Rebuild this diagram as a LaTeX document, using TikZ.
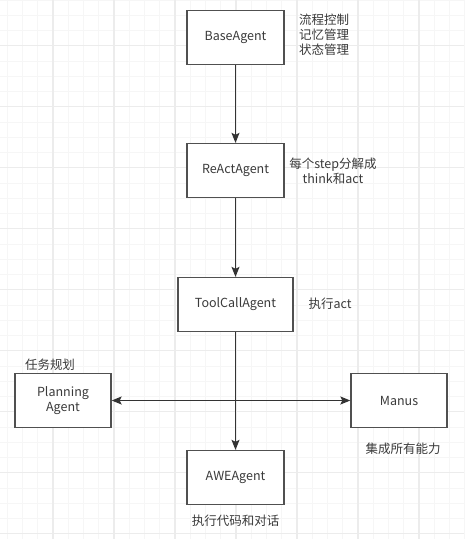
\documentclass[tikz,border=0pt]{standalone}
\usepackage{fontspec}
\setmainfont{Noto Sans CJK SC}
\usetikzlibrary{arrows.meta, positioning}
\definecolor{cline}{HTML}{505050}
\definecolor{carrow}{HTML}{333333}
\definecolor{ctext}{HTML}{3A3A3A}
\definecolor{cgridminor}{HTML}{F6F6F6}
\definecolor{cgridmajor}{HTML}{ECECEC}
\tikzset{
  every picture/.style={font=\fontsize{12.5}{15}\selectfont, text=ctext},
  agent/.style={draw=cline, fill=white, line width=1.3pt, minimum width=#1, minimum height=54pt, inner sep=0pt, align=center},
  agent/.default=97pt,
  arrow/.style={-{Stealth[length=10pt, width=8pt, inset=2pt]}, draw=carrow, line width=1.3pt},
  note/.style={align=center, inner sep=0pt},
  gridminor/.style={draw=cgridminor, line width=1pt},
  gridmajor/.style={draw=cgridmajor, line width=1.2pt},
}
\begin{document}
\begin{tikzpicture}[x=1pt, y=-1pt]
  \fill[white] (0,0) rectangle (464,539);
  \useasboundingbox (0,0) rectangle (464,539);
  % background grid
  \foreach \k in {0,...,30} \draw[gridminor] ({7.25+15.25*\k},0) -- ++(0,539);
  \foreach \k in {0,...,35} \draw[gridminor] (0,{15.25*\k}) -- ++(464,0);
  \foreach \k in {3,7,...,27} \draw[gridmajor] ({7.25+15.25*\k},0) -- ++(0,539);
  \foreach \k in {3,7,...,35} \draw[gridmajor] (0,{15.25*\k}) -- ++(464,0);

  % agents
  \node[agent] (base) at (235.5,37.5) {BaseAgent};
  \node[agent] (react) at (235.5,170.5) {ReActAgent};
  \node[agent=115pt] (tool) at (235.5,304.5) {ToolCallAgent};
  \node[agent=96pt] (plan) at (63,400.5) {Planning\\Agent};
  \node[agent=96pt] (manus) at (399,400.5) {Manus};
  \node[agent] (awe) at (235.5,477.5) {AWEAgent};

  % notes
  \node[note, align=left, anchor=west] (basenote) at (299,35) {流程控制\\记忆管理\\状态管理};
  \node[note] (reactnote) at (333,171.5) {每个step分解成\\think和act};
  \node[note] (toolnote) at (330,304) {执行act};
  \node[note] (plannote) at (50,365) {任务规划};
  \node[note] (manusnote) at (403,449) {集成所有能力};
  \node[note] (awenote) at (235.5,521) {执行代码和对话};

  % inheritance
  \draw[arrow] (base) -- (react);
  \draw[arrow] (react) -- (tool);
  \draw[arrow] (tool) -- (awe);
  \coordinate (fork) at (235.5,400.5);
  \draw[arrow] (fork) -- (plan);
  \draw[arrow] (fork) -- (manus);
\end{tikzpicture}
\end{document}
